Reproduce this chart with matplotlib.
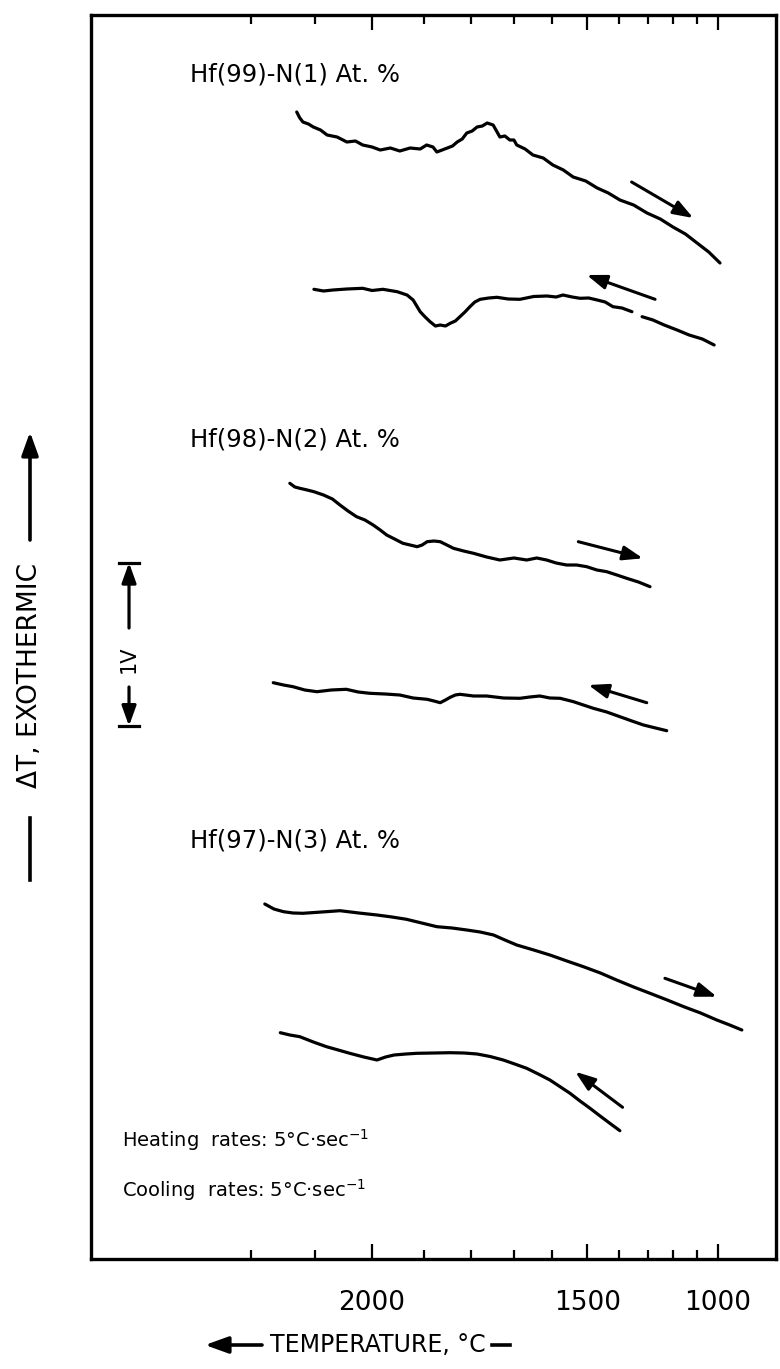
import numpy as np
import matplotlib
matplotlib.use("Agg")
import matplotlib.pyplot as plt
import matplotlib.transforms as mtransforms
from matplotlib.patches import ArrowStyle, FancyArrowPatch

plt.rcParams['font.family'] = ['DejaVu Sans']

# ---------------- data (temperature in deg C, Delta T in arbitrary chart units) -------------
heat99_T = [2129, 2124, 2119, 2110, 2102, 2090, 2079, 2062, 2045, 2030, 2017, 2000, 1985, 1966, 1948,
            1928, 1908, 1895, 1882, 1874, 1863, 1852, 1841, 1831, 1820, 1810, 1798, 1787, 1775, 1764,
            1750, 1742, 1734, 1722, 1710, 1700, 1693, 1672, 1652, 1625, 1599, 1570, 1542, 1505, 1470,
            1435, 1397, 1350, 1302, 1252, 1202, 1150, 1099, 1045, 990]
heat99_y = [114.8, 114.2, 113.8, 113.6, 113.3, 113.0, 112.5, 112.3, 111.8, 111.9, 111.5, 111.3, 111.0, 111.2, 110.9,
            111.2, 111.1, 111.5, 111.3, 110.8, 111.0, 111.2, 111.4, 111.8, 112.1, 112.7, 112.9, 113.3, 113.4, 113.7,
            113.5, 112.9, 112.3, 112.4, 112.0, 112.0, 111.5, 111.1, 110.5, 110.2, 109.5, 109.0, 108.3, 107.9, 107.2,
            106.7, 106.0, 105.5, 104.7, 104.1, 103.3, 102.6, 101.7, 100.8, 99.7]

cool99_T = [2101, 2085, 2069, 2045, 2017, 2000, 1980, 1961, 1953, 1934, 1922, 1908, 1898, 1888, 1877,
            1867, 1856, 1846, 1835, 1825, 1814, 1803, 1792, 1780, 1760, 1741, 1714, 1685, 1650, 1615,
            1590, 1571, 1545, 1522, 1496, 1470, 1445, 1420, 1390, 1356, np.nan, 1320, 1280, 1237, 1185,
            1134, 1075, 1019]
cool99_y = [97.07, 96.9, 97.0, 97.1, 97.17, 96.95, 97.07, 96.9, 96.83, 96.5, 96.0, 94.83, 94.3, 93.83, 93.4,
            93.5, 93.4, 93.67, 93.9, 94.33, 94.8, 95.33, 95.8, 96.07, 96.2, 96.27, 96.1, 96.07, 96.35, 96.4,
            96.3, 96.5, 96.3, 96.17, 96.2, 96.0, 95.8, 95.33, 95.2, 94.83, np.nan, 94.33, 94.0, 93.5, 93.0,
            92.5, 92.1, 91.5]

heat98_T = [2140, 2132, 2124, 2112, 2101, 2085, 2070, 2057, 2043, 2028, 2013, 1998, 1985, 1973, 1958,
            1942, 1928, 1914, 1904, 1894, 1880, 1867, 1853, 1839, 1817, 1795, 1765, 1734, 1700, 1668,
            1642, 1616, 1590, 1561, 1532, 1502, 1471, 1440, 1407, 1374, 1333, 1291]
heat98_y = [77.67, 77.3, 77.17, 77.0, 76.83, 76.5, 76.1, 75.5, 74.9, 74.33, 74.0, 73.5, 73.0, 72.5, 72.1,
            71.67, 71.5, 71.33, 71.5, 71.83, 71.9, 71.83, 71.5, 71.17, 70.9, 70.67, 70.3, 70.0, 70.2, 70.0,
            70.2, 70.0, 69.7, 69.5, 69.5, 69.33, 69.0, 68.83, 68.5, 68.17, 67.8, 67.33]

cool98_T = [2166, 2150, 2135, 2116, 2096, 2072, 2046, 2025, 2004, 1976, 1948, 1922, 1894, 1880, 1867,
            1856, 1846, 1835, 1825, 1795, 1765, 1725, 1685, 1660, 1634, 1607, 1579, 1560, 1541, 1512,
            1482, 1440, 1397, 1356, 1315, 1270, 1227]
cool98_y = [57.73, 57.5, 57.33, 57.0, 56.83, 57.0, 57.07, 56.8, 56.67, 56.6, 56.5, 56.2, 56.07, 55.9, 55.73,
            56.0, 56.27, 56.5, 56.57, 56.4, 56.4, 56.2, 56.17, 56.3, 56.4, 56.2, 56.17, 56.0, 55.83, 55.5,
            55.17, 54.8, 54.33, 53.9, 53.5, 53.2, 52.93]

heat97_T = [2179, 2165, 2150, 2135, 2119, 2088, 2057, 2024, 1991, 1963, 1935, 1905, 1874, 1842, 1810,
            1780, 1749, 1722, 1693, 1650, 1607, 1560, 1512, 1460, 1408, 1350, 1291, 1225, 1157, 1083,
            1006, 940, 874]
heat97_y = [35.6, 35.1, 34.83, 34.7, 34.67, 34.8, 34.93, 34.7, 34.5, 34.3, 34.07, 33.7, 33.33, 33.2, 33.0,
            32.8, 32.5, 32.0, 31.5, 31.0, 30.5, 29.9, 29.33, 28.7, 28.0, 27.3, 26.67, 26.0, 25.33, 24.7,
            24.0, 23.5, 23.0]

cool97_T = [2155, 2140, 2124, 2102, 2080, 2060, 2040, 2015, 1991, 1975, 1959, 1936, 1914, 1880, 1846,
            1816, 1787, 1757, 1726, 1698, 1668, 1638, 1607, 1580, 1551, 1522, 1492, 1461, 1430, 1397]
cool97_y = [22.73, 22.5, 22.33, 21.8, 21.33, 21.0, 20.67, 20.3, 20.0, 20.3, 20.5, 20.6, 20.67, 20.7, 20.73,
            20.7, 20.6, 20.35, 20.0, 19.6, 19.17, 18.6, 18.0, 17.35, 16.67, 15.9, 15.17, 14.4, 13.67, 12.93]

# direction arrows: (T_start, y_start, T_end, y_end)
arrows_T0 = [1357, 1272, 1527, 1303, 1234, 1388]
arrows_y0 = [107.8, 96.07, 71.83, 55.73, 28.17, 15.27]
arrows_T1 = [1116, 1502, 1317, 1497, 1006, 1536]
arrows_y1 = [104.2, 98.5, 70.17, 57.5, 26.33, 18.83]

alloy_labels = ["Hf(99)-N(1) At. %", "Hf(98)-N(2) At. %", "Hf(97)-N(3) At. %"]
major_ticks = [2000, 1500, 1000]
major_labels = ["2000", "1500", "1000"]
minor_ticks = [2200, 2100, 1900, 1800, 1700, 1600, 1400, 1300, 1200, 1100]

# scale bar (1 V) in chart units
bar_top, bar_bottom = 69.73, 53.4

# ---------------- figure ---------------------------------------------------
W, H = 780, 1369
fig = plt.figure(figsize=(W / 100, H / 100), dpi=100)
L, R, T, B = 91, 776, 15, 1259
ax = fig.add_axes([L / W, 1 - B / H, (R - L) / W, (B - T) / H])

ax.set_xscale('function', functions=(lambda t: np.exp(np.asarray(t) / 1000.0),
                                     lambda u: 1000.0 * np.log(np.clip(u, 1e-9, None))))
ax.set_xlim(2414.5, 660.2)
ax.set_ylim(0.1, 124.5)

lw = 2.3
for Tx, Yy in [(heat99_T, heat99_y), (cool99_T, cool99_y), (heat98_T, heat98_y),
               (cool98_T, cool98_y), (heat97_T, heat97_y), (cool97_T, cool97_y)]:
    ax.plot(Tx, Yy, color='black', lw=lw, solid_joinstyle='round', solid_capstyle='round')

style = ArrowStyle('-|>', head_length=1.0, head_width=0.36)
for t0, y0, t1, y1 in zip(arrows_T0, arrows_y0, arrows_T1, arrows_y1):
    ax.annotate('', xy=(t1, y1), xytext=(t0, y0),
                arrowprops=dict(arrowstyle=style, color='black', lw=2.2,
                                mutation_scale=12, shrinkA=0, shrinkB=0))

# frame and ticks
for s in ax.spines.values():
    s.set_linewidth(2.4)
ax.set_xticks(major_ticks)
ax.set_xticklabels(major_labels)
ax.set_xticks(minor_ticks, minor=True)
ax.tick_params(axis='x', which='both', direction='in', top=True, bottom=True, width=1.6)
ax.tick_params(axis='x', which='major', length=11, pad=22, labelsize=19)
ax.tick_params(axis='x', which='minor', length=6.5)
ax.tick_params(axis='y', left=False, right=False, labelleft=False)

# alloy labels
lab_pos = [(0.1445, 0.9518), (0.1445, 0.6584), (0.1445, 0.3368)]
for (xa, ya), s in zip(lab_pos, alloy_labels):
    ax.text(xa, ya, s, transform=ax.transAxes, fontsize=17.5, ha='left', va='center')

ax.text(0.0453, 0.0957, "Heating  rates: 5°C·sec$^{-1}$", transform=ax.transAxes,
        fontsize=14, ha='left', va='center')
ax.text(0.0453, 0.0555, "Cooling  rates: 5°C·sec$^{-1}$", transform=ax.transAxes,
        fontsize=14, ha='left', va='center')

# scale bar
blend = mtransforms.blended_transform_factory(ax.transAxes, ax.transData)
xb, hw = 0.0555, 0.0146
for yb in (bar_top, bar_bottom):
    ax.plot([xb - hw, xb + hw], [yb, yb], color='black', lw=2.3, transform=blend, clip_on=False)
ax.annotate('', xy=(xb, bar_top), xytext=(xb, 63.2), xycoords=blend, textcoords=blend,
            arrowprops=dict(arrowstyle=style, color='black', lw=2.3, mutation_scale=12,
                            shrinkA=0, shrinkB=0))
ax.annotate('', xy=(xb, bar_bottom), xytext=(xb, 57.3), xycoords=blend, textcoords=blend,
            arrowprops=dict(arrowstyle=style, color='black', lw=2.3, mutation_scale=12,
                            shrinkA=0, shrinkB=0))
ax.text(xb, 60.1, "1V", transform=blend, rotation=90, fontsize=15, ha='center', va='center')

# y-axis label with arrows
fx = lambda px: px / W
fy = lambda py: 1 - py / H
fig.text(fx(30), fy(675), "ΔT, EXOTHERMIC", rotation=90, fontsize=19, ha='center', va='center')
fig.add_artist(plt.Line2D([fx(30), fx(30)], [fy(880), fy(818)], color='black', lw=2.6))
fig.patches.append(FancyArrowPatch(
    (fx(30), fy(540)), (fx(30), fy(432)), transform=fig.transFigure,
    arrowstyle=ArrowStyle('-|>', head_length=1.0, head_width=0.36), mutation_scale=14,
    color='black', lw=2.6, shrinkA=0, shrinkB=0))

# x-axis label with arrows
fig.text(fx(378), fy(1345), "TEMPERATURE, °C", fontsize=17, ha='center', va='center')
fig.patches.append(FancyArrowPatch(
    (fx(262), fy(1345)), (fx(205), fy(1345)), transform=fig.transFigure,
    arrowstyle=ArrowStyle('-|>', head_length=1.0, head_width=0.36), mutation_scale=14,
    color='black', lw=2.6, shrinkA=0, shrinkB=0))
fig.add_artist(plt.Line2D([fx(492), fx(510)], [fy(1345), fy(1345)], color='black', lw=2.6))

fig.savefig("out.png", dpi=100, facecolor='white')
